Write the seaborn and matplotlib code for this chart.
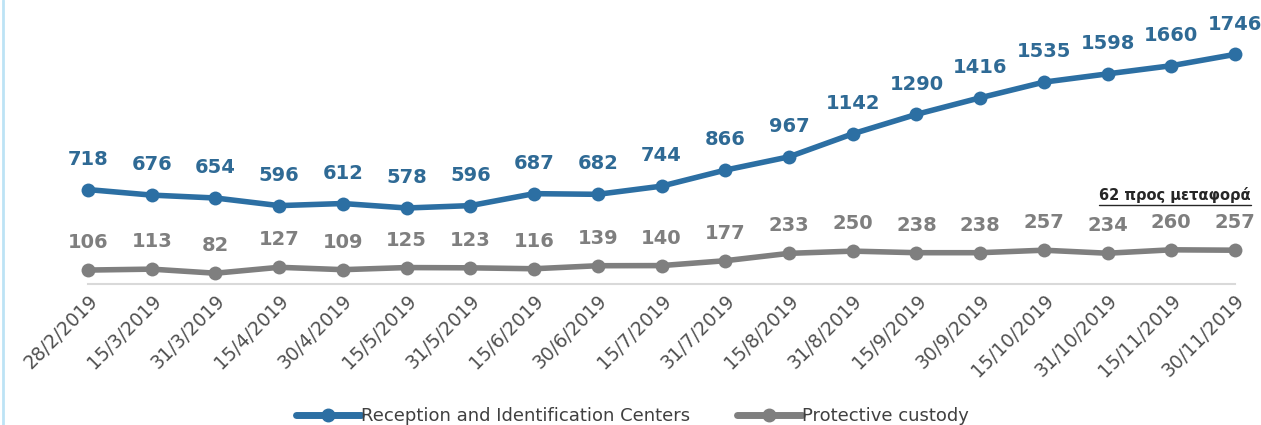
import matplotlib
matplotlib.use('Agg')
import matplotlib.pyplot as plt
from matplotlib.lines import Line2D
import seaborn as sns
import pandas as pd
import numpy as np

dates = ['28/2/2019', '15/3/2019', '31/3/2019', '15/4/2019', '30/4/2019', '15/5/2019',
         '31/5/2019', '15/6/2019', '30/6/2019', '15/7/2019', '31/7/2019', '15/8/2019',
         '31/8/2019', '15/9/2019', '30/9/2019', '15/10/2019', '31/10/2019', '15/11/2019',
         '30/11/2019']
ric = [718, 676, 654, 596, 612, 578, 596, 687, 682, 744, 866, 967,
       1142, 1290, 1416, 1535, 1598, 1660, 1746]
custody = [106, 113, 82, 127, 109, 125, 123, 116, 139, 140, 177, 233,
           250, 238, 238, 257, 234, 260, 257]
series_names = ['Reception and Identification Centers', 'Protective custody']
note = '62 προς μεταφορά'

sns.set_style('white')
plt.rcParams['font.family'] = ['DejaVu Sans']

blue = '#2C6FA3'
grey = '#7F7F7F'
palette = {series_names[0]: blue, series_names[1]: grey}

df = pd.DataFrame({
    'idx': list(range(len(dates))) * 2,
    'value': ric + custody,
    'series': [series_names[0]] * len(dates) + [series_names[1]] * len(dates),
})

fig = plt.figure(figsize=(12.61, 4.25), dpi=100)
ax = fig.add_axes([88 / 1261, 1 - 284 / 425, (1235 - 88) / 1261, 263 / 425])

sns.lineplot(data=df, x='idx', y='value', hue='series', palette=palette,
             marker='o', markersize=10, markeredgewidth=0, linewidth=4,
             ax=ax, legend=False, clip_on=False)

ax.set_xlim(0, len(dates) - 1)
ax.set_ylim(0, 2000)
ax.set_xlabel('')
ax.set_ylabel('')
ax.set_yticks([])
ax.set_xticks(range(len(dates)))
ax.set_xticklabels(dates, rotation=45, ha='right', rotation_mode='anchor',
                   fontsize=13.5, color='#505050')
ax.tick_params(axis='x', length=0, pad=5)
for s in ['top', 'right', 'left']:
    ax.spines[s].set_visible(False)
ax.spines['bottom'].set_color('#D9D9D9')
ax.spines['bottom'].set_linewidth(1.5)

for i, v in enumerate(ric):
    ax.annotate(str(v), (i, v), xytext=(0, 15), textcoords='offset points',
                ha='center', va='bottom', fontsize=14, fontweight='bold', color='#2F6A95')
for i, v in enumerate(custody):
    ax.annotate(str(v), (i, v), xytext=(0, 13), textcoords='offset points',
                ha='center', va='bottom', fontsize=14, fontweight='bold', color='#7F7F7F')

# note with underline
t = fig.text(1175 / 1261, 1 - 195 / 425, note, ha='center', va='center',
             fontsize=10.5, fontweight='bold', color='#262626')
fig.canvas.draw()
bb = t.get_window_extent().transformed(fig.transFigure.inverted())
fig.add_artist(Line2D([bb.x0, bb.x1], [bb.y0 - 0.004, bb.y0 - 0.004],
                      transform=fig.transFigure, color='#262626', lw=1))

# left border
fig.add_artist(Line2D([0.002, 0.002], [0, 1], transform=fig.transFigure,
                      color='#BDE3F5', lw=2))

handles = [Line2D([], [], color=palette[n], lw=5, marker='o', markersize=9, label=n)
           for n in series_names]
fig.legend(handles=handles, loc='center', bbox_to_anchor=(632 / 1261, 1 - 416 / 425),
           ncol=2, frameon=False, fontsize=13, handlelength=3.6, handletextpad=0,
           columnspacing=2.6, labelcolor='#404040')

fig.savefig('out.png', dpi=100)
